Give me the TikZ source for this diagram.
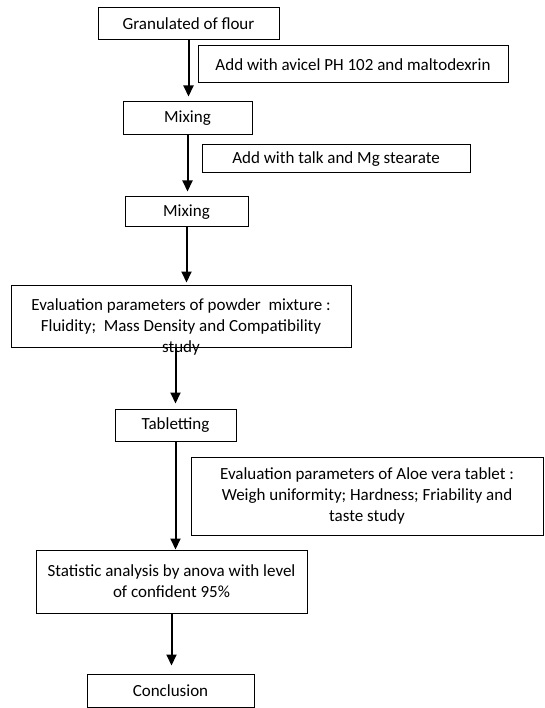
\documentclass[tikz,border=0pt]{standalone}
\usepackage{fontspec}
\setmainfont{Carlito}
\usetikzlibrary{arrows.meta}
\begin{document}
\begin{tikzpicture}[x=1pt,y=-1pt,
        font=\fontsize{17}{21}\selectfont,
        box/.style={draw, line width=1pt, align=center, inner sep=0pt},
        flow/.style={->, line width=2pt, shorten >=5pt},
        >={Triangle[length=11pt,width=10pt]}]
        \useasboundingbox (0,0) rectangle (544,708);

        \node[box, minimum width=181, minimum height=32] (gran) at (188.5,24) {Granulated of flour};
        \node[box, minimum width=310, minimum height=37] (add1) at (353,64.5) {Add with avicel PH 102 and maltodexrin};
        \node[box, minimum width=129, minimum height=33] (mix1) at (187.5,118.5) {Mixing};
        \node[box, minimum width=268, minimum height=28] (add2) at (336,159) {Add with talk and Mg stearate};
        \node[box, minimum width=123, minimum height=30] (mix2) at (186.5,212) {Mixing};

        \node[box, minimum width=340, minimum height=62,
              label={[name=ev1s, anchor=center, inner sep=0pt]south:study}] (ev1) at (181,316)
              {Evaluation parameters of powder\ \ mixture :\\Fluidity;\ \ Mass Density and Compatibility};
        \node[box, minimum width=121, minimum height=32] (tab) at (175.5,425) {Tabletting};
        \node[box, minimum width=352, minimum height=78] (ev2) at (367,496)
              {Evaluation parameters of Aloe vera tablet :\\Weigh uniformity; Hardness; Friability and\\taste study};
        \node[box, minimum width=271, minimum height=63] (stat) at (171.5,581.5)
              {Statistic analysis by anova with level\\of confident 95\%};
        \node[box, minimum width=167, minimum height=33] (conc) at (170.5,690.5) {Conclusion};

        \draw[flow] (gran.south) -- (gran.south |- mix1.north);
        \draw[flow] (mix1.south) -- (mix1.south |- mix2.north);
        \draw[flow, shorten >=2pt] (mix2.south) -- (mix2.south |- ev1.north);
        \draw[flow] (tab.north |- ev1.south) -- (tab.north);
        \draw[flow, shorten >=0pt] (tab.south) -- (tab.south |- stat.north);
        \draw[flow, shorten >=8pt] (stat.south) -- (stat.south |- conc.north);
    \end{tikzpicture}
\end{document}
